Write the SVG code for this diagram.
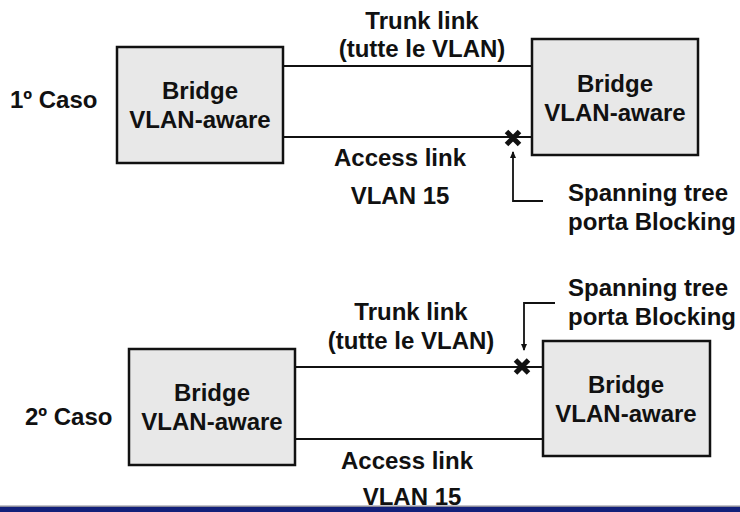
<svg xmlns="http://www.w3.org/2000/svg" width="740" height="512" viewBox="0 0 740 512">
<defs>
<style>
text{font-family:"Liberation Sans",Arial,Helvetica,sans-serif;font-weight:bold;font-size:24px;fill:#111}
.c{text-anchor:middle}
.box{fill:#e8e8e8;stroke:#111;stroke-width:2.5}
.ln{stroke:#111;stroke-width:2;fill:none}
.x{stroke:#111;stroke-width:5;fill:none}
.ar{stroke:#111;stroke-width:1.8;fill:none}
</style>
<marker id="ah" markerWidth="8" markerHeight="10" refX="6" refY="4" orient="auto" markerUnits="userSpaceOnUse" viewBox="0 0 8 8">
<path d="M0,1 L7,4 L0,7 Z" fill="#111"/>
</marker>
</defs>
<rect width="740" height="512" fill="#fff"/>
<g id="connectors">
<line class="ln" x1="283" y1="66" x2="532" y2="66"/>
<line class="ln" x1="283" y1="137" x2="532" y2="137"/>
<path class="x" d="M506.5,131.5 L519.5,144.5 M519.5,131.5 L506.5,144.5"/>
<path class="ar" d="M543,201 H513 V152" marker-end="url(#ah)"/>
<line class="ln" x1="295" y1="367" x2="543" y2="367"/>
<line class="ln" x1="295" y1="439" x2="543" y2="439"/>
<path class="x" d="M515.5,360 L528.5,373 M528.5,360 L515.5,373"/>
<path class="ar" d="M555,303 H524 V350" marker-end="url(#ah)"/>
</g>
<g id="labels">
<text class="c" x="422" y="29">Trunk link</text>
<text class="c" x="422" y="57">(tutte le VLAN)</text>
<text class="c" x="400" y="166">Access link</text>
<text class="c" x="400" y="204">VLAN 15</text>
<text x="568" y="201">Spanning tree</text>
<text x="568" y="230">porta Blocking</text>
<text x="10" y="108">1º Caso</text>
<text class="c" x="411" y="320">Trunk link</text>
<text class="c" x="411" y="349">(tutte le VLAN)</text>
<text class="c" x="407" y="469">Access link</text>
<text class="c" x="412" y="505">VLAN 15</text>
<text x="568" y="296">Spanning tree</text>
<text x="568" y="325">porta Blocking</text>
<text x="25" y="425">2º Caso</text>
</g>
<g id="bridge1">
<rect class="box" x="117" y="47" width="166" height="116"/>
<text class="c" x="200" y="99">Bridge</text>
<text class="c" x="200" y="128">VLAN-aware</text>
</g>
<g id="bridge2">
<rect class="box" x="532" y="39" width="166" height="116"/>
<text class="c" x="615" y="92">Bridge</text>
<text class="c" x="615" y="121">VLAN-aware</text>
</g>
<g id="bridge3">
<rect class="box" x="129" y="349" width="166" height="116"/>
<text class="c" x="212" y="401">Bridge</text>
<text class="c" x="212" y="430">VLAN-aware</text>
</g>
<g id="bridge4">
<rect class="box" x="543" y="341" width="167" height="115"/>
<text class="c" x="626" y="393">Bridge</text>
<text class="c" x="626" y="422">VLAN-aware</text>
</g>
<g id="footer">
<rect x="0" y="505.5" width="740" height="1.5" fill="#8a8a9a"/>
<rect x="0" y="507" width="740" height="5" fill="#12207a"/>
</g>
</svg>
